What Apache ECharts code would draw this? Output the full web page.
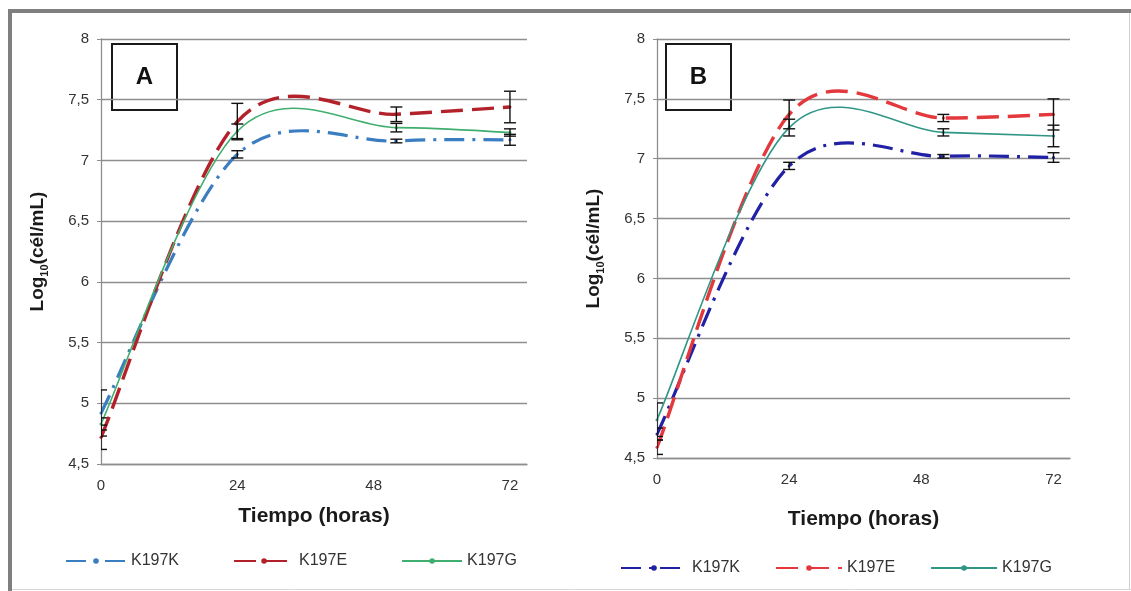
<!DOCTYPE html>
<html>
<head>
<meta charset="utf-8">
<script src="https://cdn.jsdelivr.net/npm/echarts@6/dist/echarts.min.js"></script>
<style>
html,body{margin:0;padding:0;background:#fff;}
#chart{width:1131px;height:591px;}
</style>
</head>
<body>
<div id="chart"></div>
<script>
// ---- data ----
const hours = [0, 24, 52, 72];
const xTicks = [0, 24, 48, 72];
const seriesNames = ['K197K', 'K197E', 'K197G'];

const A_K197K = [4.92, 7.05, 7.16, 7.17];
const A_K197E = [4.72, 7.32, 7.38, 7.44];
const A_K197G = [4.83, 7.24, 7.27, 7.23];
const A_err_K197K = [0.19, 0.03, 0.015, 0.045];
const A_err_K197E = [0.10, 0.15, 0.06, 0.13];
const A_err_K197G = [0.05, 0.06, 0.035, 0.03];

const B_K197K = [4.70, 6.94, 7.02, 7.01];
const B_K197E = [4.59, 7.37, 7.34, 7.37];
const B_K197G = [4.82, 7.26, 7.22, 7.19];
const B_err_K197K = [0.05, 0.03, 0.015, 0.04];
const B_err_K197E = [0.06, 0.12, 0.03, 0.13];
const B_err_K197G = [0.14, 0.07, 0.03, 0.09];

const panelLabels = ['A', 'B'];

// ---- styles ----
const FONT = '"Liberation Sans", Arial, sans-serif';
const gridColor = '#8e8e8e';
const colorsA = ['#3a7dc0', '#b3212b', '#3fae6e'];
const colorsB = ['#2121a6', '#e3383c', '#2f9686'];
const dashK = [20, 8, 3, 8];
const dashE = [22, 9];

const chart = echarts.init(document.getElementById('chart'), null, {renderer: 'canvas'});

function pairs(vals) { return hours.map((h, i) => [h, vals[i]]); }

// line series: markers + legend entry (its straight line is hidden; the smoothed curve is drawn below)
function lineSeries(name, vals, color, dash, width, idx) {
  return {
    name: name, type: 'line', xAxisIndex: idx, yAxisIndex: idx,
    data: pairs(vals), smooth: false,
    symbol: 'circle', symbolSize: 3, showSymbol: true,
    itemStyle: {color: color},
    lineStyle: {color: color, width: width, type: dash, opacity: 0},
    z: 4
  };
}

// smoothed curve (Catmull-Rom style bezier through the data points, like a spreadsheet "smoothed line")
function curveSeries(vals, color, dash, width, idx) {
  return {
    type: 'custom', xAxisIndex: idx, yAxisIndex: idx, silent: true, clip: true, z: 3,
    data: pairs(vals),
    encode: {x: 0, y: 1},
    renderItem: function (params, api) {
      if (params.dataIndex !== 0) return {type: 'group', children: []};
      const pts = hours.map((h, i) => api.coord([h, vals[i]]));
      const n = pts.length;
      let d = 'M' + pts[0][0].toFixed(2) + ' ' + pts[0][1].toFixed(2);
      for (let i = 0; i < n - 1; i++) {
        const p0 = pts[Math.max(i - 1, 0)], p1 = pts[i], p2 = pts[i + 1], p3 = pts[Math.min(i + 2, n - 1)];
        const c1x = p1[0] + (p2[0] - p0[0]) / 6, c1y = p1[1] + (p2[1] - p0[1]) / 6;
        const c2x = p2[0] - (p3[0] - p1[0]) / 6, c2y = p2[1] - (p3[1] - p1[1]) / 6;
        d += ' C' + c1x.toFixed(2) + ' ' + c1y.toFixed(2) + ' ' + c2x.toFixed(2) + ' ' + c2y.toFixed(2) +
             ' ' + p2[0].toFixed(2) + ' ' + p2[1].toFixed(2);
      }
      return {
        type: 'path', shape: {pathData: d},
        style: {fill: 'none', stroke: color, lineWidth: width, lineDash: dash === 'solid' ? null : dash}
      };
    }
  };
}

function errSeries(vals, errs, idx) {
  return {
    type: 'custom', xAxisIndex: idx, yAxisIndex: idx, silent: true, clip: true, z: 6,
    data: hours.map((h, i) => [h, vals[i] - errs[i], vals[i] + errs[i]]),
    encode: {x: 0, y: [1, 2]},
    renderItem: function (params, api) {
      const lo = api.coord([api.value(0), api.value(1)]);
      const hi = api.coord([api.value(0), api.value(2)]);
      const w = 6;
      const st = {stroke: '#111', lineWidth: 1.4};
      return {type: 'group', children: [
        {type: 'line', shape: {x1: lo[0], y1: lo[1], x2: hi[0], y2: hi[1]}, style: st},
        {type: 'line', shape: {x1: lo[0] - w, y1: lo[1], x2: lo[0] + w, y2: lo[1]}, style: st},
        {type: 'line', shape: {x1: hi[0] - w, y1: hi[1], x2: hi[0] + w, y2: hi[1]}, style: st}
      ]};
    }
  };
}

function xAxis(idx, gap) {
  return {
    type: 'value', gridIndex: idx, min: 0, max: 75, interval: 24,
    axisLine: {show: true, lineStyle: {color: gridColor, width: 1.3}},
    axisTick: {show: false},
    splitLine: {show: false},
    axisLabel: {showMaxLabel: false, color: '#333', fontSize: 15, fontFamily: FONT, margin: 14,
      formatter: v => (xTicks.indexOf(v) >= 0 ? String(v) : '')},
    name: 'Tiempo (horas)', nameLocation: 'middle', nameGap: gap,
    nameTextStyle: {color: '#1a1a1a', fontSize: 21, fontWeight: 'bold', fontFamily: FONT}
  };
}

function yAxis(idx) {
  return {
    type: 'value', gridIndex: idx, min: 4.5, max: 8, interval: 0.5,
    axisLine: {show: true, lineStyle: {color: gridColor, width: 1.3}},
    axisTick: {show: true, length: 4, lineStyle: {color: gridColor}},
    splitLine: {show: true, lineStyle: {color: gridColor, width: 1.3}},
    axisLabel: {color: '#333', fontSize: 15, fontFamily: FONT, margin: 12,
      formatter: v => String(v).replace('.', ',')},
    name: '{a|Log}{s|10}{a|(cél/mL)}', nameLocation: 'middle', nameRotate: 90, nameGap: 51,
    nameTextStyle: {
      color: '#1a1a1a', fontFamily: FONT,
      rich: {
        a: {fontSize: 19, fontWeight: 'bold', fontFamily: FONT, color: '#1a1a1a', lineHeight: 24},
        s: {fontSize: 11, fontWeight: 'bold', fontFamily: FONT, color: '#1a1a1a', verticalAlign: 'bottom', lineHeight: 24}
      }
    }
  };
}

const namesB = seriesNames.map(n => n + ' ');

const option = {
  backgroundColor: '#ffffff',
  animation: false,
  grid: [
    {left: 101, top: 39, width: 426, height: 425},
    {left: 657, top: 39, width: 413, height: 419}
  ],
  xAxis: [xAxis(0, 42), xAxis(1, 51)],
  yAxis: [yAxis(0), yAxis(1)],
  legend: [
    {data: seriesNames, left: 60, top: 548, itemWidth: 60, itemHeight: 7, itemGap: 54,
     lineStyle: {opacity: 1},
     textStyle: {color: '#333', fontSize: 16, fontFamily: FONT}},
    {data: namesB, left: 615, top: 555, itemWidth: 66, itemHeight: 7, itemGap: 35,
     lineStyle: {opacity: 1},
     formatter: n => n.trim(),
     textStyle: {color: '#333', fontSize: 16, fontFamily: FONT}}
  ],
  series: [
    lineSeries(seriesNames[0], A_K197K, colorsA[0], dashK, 3.2, 0),
    lineSeries(seriesNames[1], A_K197E, colorsA[1], dashE, 3.4, 0),
    lineSeries(seriesNames[2], A_K197G, colorsA[2], 'solid', 1.6, 0),
    lineSeries(namesB[0], B_K197K, colorsB[0], dashK, 3.2, 1),
    lineSeries(namesB[1], B_K197E, colorsB[1], dashE, 3.4, 1),
    lineSeries(namesB[2], B_K197G, colorsB[2], 'solid', 1.6, 1),
    curveSeries(A_K197K, colorsA[0], dashK, 3.2, 0),
    curveSeries(A_K197E, colorsA[1], dashE, 3.4, 0),
    curveSeries(A_K197G, colorsA[2], 'solid', 1.6, 0),
    curveSeries(B_K197K, colorsB[0], dashK, 3.2, 1),
    curveSeries(B_K197E, colorsB[1], dashE, 3.4, 1),
    curveSeries(B_K197G, colorsB[2], 'solid', 1.6, 1),
    errSeries(A_K197K, A_err_K197K, 0),
    errSeries(A_K197E, A_err_K197E, 0),
    errSeries(A_K197G, A_err_K197G, 0),
    errSeries(B_K197K, B_err_K197K, 1),
    errSeries(B_K197E, B_err_K197E, 1),
    errSeries(B_K197G, B_err_K197G, 1)
  ],
  graphic: [
    {type: 'line', shape: {x1: 10, y1: 9, x2: 10, y2: 591}, style: {stroke: '#7f7f7f', lineWidth: 4}, z: 100},
    {type: 'line', shape: {x1: 8, y1: 11, x2: 1131, y2: 11}, style: {stroke: '#7f7f7f', lineWidth: 4}, z: 100},
    {type: 'line', shape: {x1: 1129.5, y1: 13, x2: 1129.5, y2: 589}, style: {stroke: '#d0d0d0', lineWidth: 1}, z: 100},
    {type: 'line', shape: {x1: 12, y1: 589.5, x2: 1131, y2: 589.5}, style: {stroke: '#d8d8d8', lineWidth: 1}, z: 100},
    {type: 'group', left: 111, top: 43, z: 50, children: [
      {type: 'rect', shape: {x: 0, y: 0, width: 65, height: 66}, style: {fill: '#fff', stroke: '#1a1a1a', lineWidth: 2}},
      {type: 'text', x: 32.5, y: 33, style: {text: panelLabels[0], fill: '#111', font: 'bold 24px ' + FONT, align: 'center', verticalAlign: 'middle'}}
    ]},
    {type: 'group', left: 665, top: 43, z: 50, children: [
      {type: 'rect', shape: {x: 0, y: 0, width: 65, height: 66}, style: {fill: '#fff', stroke: '#1a1a1a', lineWidth: 2}},
      {type: 'text', x: 32.5, y: 33, style: {text: panelLabels[1], fill: '#111', font: 'bold 24px ' + FONT, align: 'center', verticalAlign: 'middle'}}
    ]}
  ]
};
chart.setOption(option);
</script>
</body>
</html>
